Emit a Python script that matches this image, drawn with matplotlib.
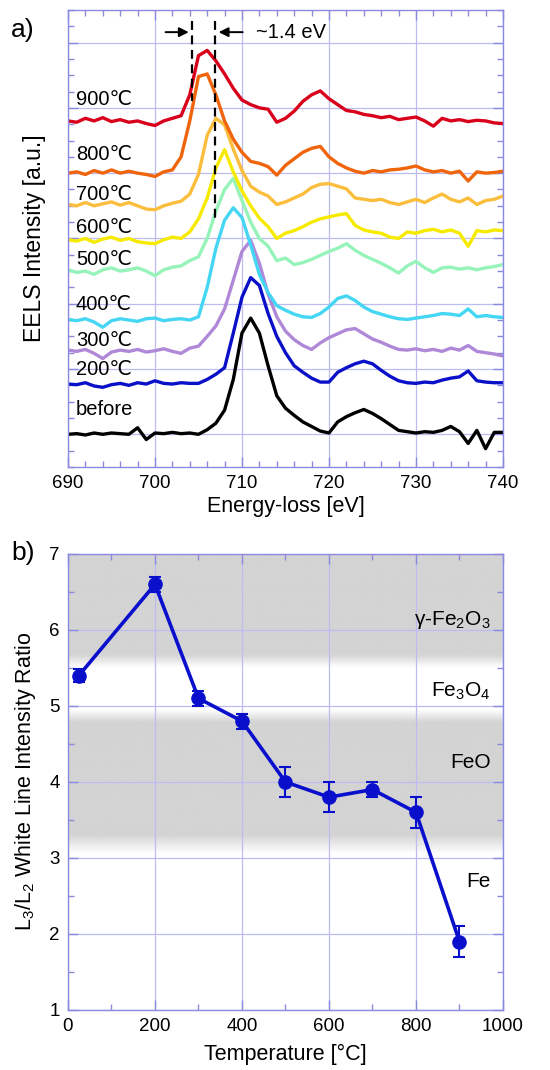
import matplotlib
matplotlib.use('Agg')
import matplotlib.pyplot as plt
import numpy as np
from matplotlib.ticker import MultipleLocator

plt.rcParams['font.family'] = ['Liberation Sans', 'DejaVu Sans']
plt.rcParams['mathtext.default'] = 'regular'

# ---- panel a: EELS spectra (1 eV steps) ----
energy = np.arange(690, 741)
spec_labels = ['before', '200℃', '300℃', '400℃', '500℃', '600℃', '700℃', '800℃', '900℃']

s_before = [0.00, 0.01, -0.01, 0.02, 0.00, 0.02, 0.01, 0.00, 0.10, -0.08,
            0.02, 0.01, 0.03, 0.01, 0.02, 0.00, 0.07, 0.17, 0.37, 0.84,
            1.55, 1.78, 1.55, 1.05, 0.59, 0.40, 0.29, 0.19, 0.12, 0.05,
            0.02, 0.19, 0.27, 0.33, 0.38, 0.32, 0.24, 0.15, 0.06, 0.04,
            0.02, 0.04, 0.03, 0.06, 0.12, 0.04, -0.14, 0.06, -0.22, 0.03, 0.03]
s_200 = [0.77, 0.76, 0.79, 0.74, 0.72, 0.76, 0.78, 0.75, 0.79, 0.77,
         0.82, 0.78, 0.77, 0.79, 0.78, 0.78, 0.84, 0.92, 1.02, 1.55,
         2.10, 2.40, 2.28, 1.85, 1.50, 1.25, 1.05, 0.95, 0.86, 0.80,
         0.80, 0.95, 1.02, 1.08, 1.12, 1.08, 0.98, 0.89, 0.82, 0.79,
         0.78, 0.80, 0.79, 0.83, 0.86, 0.88, 0.97, 0.82, 0.80, 0.79, 0.79]
s_300 = [1.29, 1.27, 1.30, 1.24, 1.16, 1.26, 1.29, 1.27, 1.30, 1.26,
         1.28, 1.31, 1.27, 1.24, 1.32, 1.35, 1.50, 1.66, 1.92, 2.36,
         2.80, 2.97, 2.62, 2.15, 1.80, 1.58, 1.45, 1.36, 1.30, 1.40,
         1.48, 1.54, 1.60, 1.62, 1.54, 1.46, 1.41, 1.35, 1.30, 1.29,
         1.31, 1.28, 1.30, 1.27, 1.32, 1.29, 1.36, 1.27, 1.25, 1.23, 1.20]
s_400 = [1.76, 1.74, 1.77, 1.72, 1.64, 1.74, 1.77, 1.75, 1.73, 1.77,
         1.78, 1.74, 1.76, 1.77, 1.75, 1.80, 2.25, 2.85, 3.28, 3.47,
         3.32, 2.90, 2.45, 2.17, 1.97, 1.90, 1.84, 1.80, 1.79, 1.85,
         1.95, 2.08, 2.12, 2.05, 1.95, 1.88, 1.84, 1.80, 1.77, 1.76,
         1.78, 1.80, 1.82, 1.85, 1.84, 1.82, 1.92, 1.80, 1.82, 1.80, 1.79]
s_500 = [2.52, 2.48, 2.50, 2.45, 2.52, 2.55, 2.50, 2.52, 2.55, 2.50,
         2.43, 2.52, 2.56, 2.58, 2.66, 2.72, 3.00, 3.42, 3.75, 3.92,
         3.58, 3.25, 3.00, 2.88, 2.66, 2.70, 2.60, 2.63, 2.68, 2.74,
         2.80, 2.85, 2.92, 2.82, 2.74, 2.68, 2.62, 2.55, 2.47, 2.58,
         2.65, 2.55, 2.48, 2.55, 2.56, 2.53, 2.55, 2.52, 2.55, 2.57, 2.60]
s_600 = [2.98, 2.96, 3.00, 2.94, 2.99, 3.02, 2.97, 3.00, 2.95, 2.93,
         2.92, 2.98, 3.02, 3.00, 3.10, 3.30, 3.62, 4.08, 4.36, 4.02,
         3.73, 3.50, 3.31, 3.18, 3.00, 3.08, 3.12, 3.18, 3.25, 3.30,
         3.33, 3.36, 3.38, 3.20, 3.13, 3.10, 3.08, 3.02, 3.00, 3.10,
         3.08, 3.12, 3.14, 3.10, 3.13, 3.08, 2.88, 3.12, 3.10, 3.13, 3.12]
s_700 = [3.52, 3.50, 3.55, 3.50, 3.53, 3.56, 3.51, 3.55, 3.50, 3.45,
         3.44, 3.50, 3.54, 3.57, 3.68, 3.98, 4.58, 4.84, 4.74, 4.37,
         4.04, 3.80, 3.71, 3.65, 3.52, 3.56, 3.62, 3.68, 3.78, 3.83,
         3.84, 3.80, 3.76, 3.62, 3.60, 3.58, 3.60, 3.55, 3.52, 3.56,
         3.60, 3.55, 3.62, 3.68, 3.60, 3.56, 3.62, 3.52, 3.58, 3.60, 3.65]
s_800 = [4.00, 4.02, 3.98, 4.04, 4.00, 4.05, 4.00, 4.03, 4.00, 3.98,
         3.95, 4.02, 4.05, 4.25, 4.80, 5.48, 5.52, 5.20, 4.80, 4.52,
         4.32, 4.18, 4.15, 4.10, 3.97, 4.12, 4.22, 4.32, 4.38, 4.41,
         4.25, 4.15, 4.08, 4.03, 4.00, 4.04, 4.02, 4.05, 4.06, 4.08,
         4.11, 4.05, 4.02, 4.04, 4.00, 4.03, 3.88, 4.02, 4.00, 4.01, 4.03]
s_900 = [4.80, 4.78, 4.84, 4.80, 4.85, 4.79, 4.82, 4.78, 4.80, 4.76,
         4.73, 4.80, 4.84, 4.88, 5.20, 5.80, 5.88, 5.72, 5.52, 5.30,
         5.12, 5.05, 5.00, 4.98, 4.78, 4.84, 4.95, 5.10, 5.20, 5.26,
         5.14, 5.05, 4.96, 4.94, 4.90, 4.88, 4.85, 4.87, 4.82, 4.84,
         4.86, 4.80, 4.72, 4.84, 4.80, 4.82, 4.79, 4.81, 4.80, 4.77, 4.76]
spectra = [s_before, s_200, s_300, s_400, s_500, s_600, s_700, s_800, s_900]

# ---- panel b: white line ratio ----
temperature = [25, 200, 300, 400, 500, 600, 700, 800, 900]
ratio = [5.4, 6.6, 5.1, 4.8, 4.0, 3.8, 3.9, 3.6, 1.9]
ratio_err = [0.08, 0.1, 0.1, 0.1, 0.2, 0.2, 0.1, 0.2, 0.2]
phase_names = ['γ-Fe$_2$O$_3$', 'Fe$_3$O$_4$', 'FeO', 'Fe']

colors = ['black', '#0a10c8', '#b088d8', '#44d6f2', '#96f3b9',
          '#f6ea00', '#fbbd3c', '#f0640c', '#d8001a']
label_y = [0.38, 1.0, 1.43, 1.99, 2.68, 3.17, 3.67, 4.29, 5.13]
spine_c = '#8a8ae0'
grid_c = '#bcbcf2'

fig = plt.figure(figsize=(5.5, 10.7), dpi=100)
ax1 = fig.add_axes([0.1236, 0.5636, 0.7909, 0.4271])
ax2 = fig.add_axes([0.1236, 0.0561, 0.7909, 0.4262])


def style_axes(ax):
    for sp in ax.spines.values():
        sp.set_color(spine_c)
        sp.set_linewidth(1.0)
    ax.tick_params(which='both', direction='in', top=True, right=True,
                   color=spine_c, labelsize=13.5, pad=6)
    ax.tick_params(which='major', length=7, width=1)
    ax.tick_params(which='minor', length=4, width=1)
    ax.grid(True, which='major', color=grid_c, linewidth=0.9)
    ax.set_axisbelow(True)


# panel a
for lab, y, c, ly in zip(spec_labels, spectra, colors, label_y):
    ax1.plot(energy, y, color=c, linewidth=2.4, solid_joinstyle='round')
    ax1.text(690.9, ly, lab, fontsize=14.5, ha='left', va='center')

ax1.set_xlim(690, 740)
ax1.set_ylim(-0.5, 6.5)
ax1.xaxis.set_major_locator(MultipleLocator(10))
ax1.xaxis.set_minor_locator(MultipleLocator(2))
ax1.yaxis.set_major_locator(MultipleLocator(1))
ax1.yaxis.set_minor_locator(MultipleLocator(0.25))
style_axes(ax1)
ax1.tick_params(axis='y', which='both', labelleft=False)
ax1.set_xlabel('Energy-loss [eV]', fontsize=15.5, labelpad=3)
ax1.set_ylabel('EELS Intensity [a.u.]', fontsize=16.5, labelpad=16)

ax1.plot([704.3, 704.3], [6.33, 5.1], color='black', linestyle='--', linewidth=1.6, dashes=(4, 2.5))
ax1.plot([706.9, 706.9], [6.33, 3.3], color='black', linestyle='--', linewidth=1.6, dashes=(4, 2.5))
ax1.annotate('', xy=(704.2, 6.16), xytext=(700.9, 6.16),
             arrowprops=dict(arrowstyle='-|>', color='black', lw=1.4, mutation_scale=14))
ax1.annotate('', xy=(707.0, 6.16), xytext=(710.4, 6.16),
             arrowprops=dict(arrowstyle='-|>', color='black', lw=1.4, mutation_scale=14))
ax1.text(711.6, 6.16, '~1.4 eV', fontsize=14.5, ha='left', va='center')

# panel b
shade_y = [1.0, 3.05, 3.3, 4.78, 4.95, 5.5, 5.67, 7.0]
shade_v = [1.0, 1.0, 0.83, 0.83, 1.0, 1.0, 0.83, 0.83]
yy = np.linspace(1, 7, 600)
prof = np.interp(yy, shade_y, shade_v)[::-1]
ax2.imshow(np.tile(prof[:, None], (1, 2)), extent=[0, 1000, 1, 7], aspect='auto',
           cmap='gray', vmin=0, vmax=1, zorder=0, interpolation='bilinear')

ax2.errorbar(temperature, ratio, yerr=ratio_err, color='#0a0fcc', linewidth=2.6,
             marker='o', markersize=9.5, elinewidth=1.5, capsize=4.5, capthick=1.5, zorder=3)
ax2.set_xlim(0, 1000)
ax2.set_ylim(1, 7)
ax2.xaxis.set_major_locator(MultipleLocator(200))
ax2.xaxis.set_minor_locator(MultipleLocator(100))
ax2.yaxis.set_major_locator(MultipleLocator(1))
ax2.yaxis.set_minor_locator(MultipleLocator(0.5))
style_axes(ax2)
ax2.set_xlabel('Temperature [°C]', fontsize=15.5, labelpad=6)
ax2.set_ylabel('L$_3$/L$_2$ White Line Intensity Ratio', fontsize=15.5, labelpad=8)

for name, py in zip(phase_names, [6.13, 5.19, 4.25, 2.69]):
    ax2.text(972, py, name, fontsize=15, ha='right', va='center')

fig.text(0.02, 0.972, 'a)', fontsize=19, ha='left', va='center')
fig.text(0.02, 0.483, 'b)', fontsize=19, ha='left', va='center')

fig.savefig('out.png', dpi=100)
